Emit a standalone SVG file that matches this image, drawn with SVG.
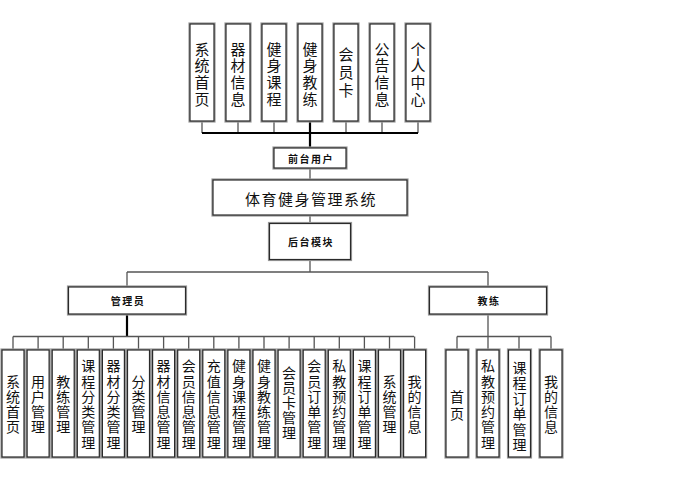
<svg xmlns="http://www.w3.org/2000/svg" width="686" height="483" viewBox="0 0 686 483">
<style>
.b{fill:#fff;stroke:#2a2a2a;stroke-width:1.2}
.h{fill:none;stroke:#9a9a9a;stroke-width:3.2}
.t{font-family:"Noto Sans CJK SC","Noto Sans CJK TC",sans-serif;fill:#111;text-anchor:middle;dominant-baseline:central}
.top{font-size:15px}
.bot{font-size:14px}
.sm{font-size:10px;letter-spacing:1.5px;font-weight:bold}
.c{fill:none;stroke:#555;stroke-width:1.3}
.k{fill:none;stroke:#000;stroke-width:2.2}
</style>
<rect width="686" height="483" fill="#fff"/>
<g id="connectors">
<path class="c" d="M202 121V133M238 121V133M274 121V133M346 121V133M382 121V133M418 121V133"/>
<path class="k" d="M202 133H418M310 121V148"/>
<path class="c" d="M310 168V180M310 215V223.5M310 259.5V272M127 272H488M127 272V287M488 272V287"/>
<path class="k" d="M127 314V336.5"/>
<path class="c" d="M13 336.5H414"/>
<path class="c" d="M13 336.5V350M38.1 336.5V350M63.2 336.5V350M88.3 336.5V350M113.4 336.5V350M138.5 336.5V350M163.6 336.5V350M188.7 336.5V350M213.8 336.5V350M238.9 336.5V350M264 336.5V350M289.1 336.5V350M314.2 336.5V350M339.3 336.5V350M364.4 336.5V350M389.5 336.5V350M414.6 336.5V350"/>
<path class="c" d="M488 314V336.5M457 336.5H551M457 336.5V350M488 336.5V350M519 336.5V350M551 336.5V350"/>
</g>
<g id="top-nodes">
<g id="n-xtsy"><rect class="h" x="190" y="24" width="24" height="97"/><rect class="b" x="190" y="24" width="24" height="97"/><text class="t top"><tspan x="202" y="47.5">系</tspan><tspan x="202" y="64.2">统</tspan><tspan x="202" y="80.9">首</tspan><tspan x="202" y="97.6">页</tspan></text></g>
<g id="n-qcxx"><rect class="h" x="226" y="24" width="24" height="97"/><rect class="b" x="226" y="24" width="24" height="97"/><text class="t top"><tspan x="238" y="47.5">器</tspan><tspan x="238" y="64.2">材</tspan><tspan x="238" y="80.9">信</tspan><tspan x="238" y="97.6">息</tspan></text></g>
<g id="n-jskc"><rect class="h" x="262" y="24" width="24" height="97"/><rect class="b" x="262" y="24" width="24" height="97"/><text class="t top"><tspan x="274" y="47.5">健</tspan><tspan x="274" y="64.2">身</tspan><tspan x="274" y="80.9">课</tspan><tspan x="274" y="97.6">程</tspan></text></g>
<g id="n-jsjl"><rect class="h" x="298" y="24" width="24" height="97"/><rect class="b" x="298" y="24" width="24" height="97"/><text class="t top"><tspan x="310" y="47.5">健</tspan><tspan x="310" y="64.2">身</tspan><tspan x="310" y="80.9">教</tspan><tspan x="310" y="97.6">练</tspan></text></g>
<g id="n-hyk"><rect class="h" x="334" y="24" width="24" height="97"/><rect class="b" x="334" y="24" width="24" height="97"/><text class="t top"><tspan x="346" y="53">会</tspan><tspan x="346" y="71">员</tspan><tspan x="346" y="89">卡</tspan></text></g>
<g id="n-ggxx"><rect class="h" x="370" y="24" width="24" height="97"/><rect class="b" x="370" y="24" width="24" height="97"/><text class="t top"><tspan x="382" y="47.5">公</tspan><tspan x="382" y="64.2">告</tspan><tspan x="382" y="80.9">信</tspan><tspan x="382" y="97.6">息</tspan></text></g>
<g id="n-grzx"><rect class="h" x="406" y="24" width="24" height="97"/><rect class="b" x="406" y="24" width="24" height="97"/><text class="t top"><tspan x="418" y="47.5">个</tspan><tspan x="418" y="64.2">人</tspan><tspan x="418" y="80.9">中</tspan><tspan x="418" y="97.6">心</tspan></text></g>
</g>
<g id="n-qtyh"><rect class="h" x="274" y="148" width="72" height="20"/><rect class="b" x="274" y="148" width="72" height="20"/><text class="t sm" x="311" y="158">前台用户</text></g>
<g id="n-main"><rect class="h" x="213" y="180" width="194" height="35"/><rect class="b" x="213" y="180" width="194" height="35"/><text class="t" x="311" y="198" style="font-size:15px;letter-spacing:1.5px">体育健身管理系统</text></g>
<g id="n-htmk"><rect class="h" x="269.5" y="223.5" width="81" height="36"/><rect class="b" x="269.5" y="223.5" width="81" height="36"/><text class="t sm" x="311" y="241.5">后台模块</text></g>
<g id="n-gly"><rect class="h" x="68.5" y="287" width="117" height="27"/><rect class="b" x="68.5" y="287" width="117" height="27"/><text class="t sm" x="128" y="300.5">管理员</text></g>
<g id="n-jl"><rect class="h" x="429.5" y="287" width="117" height="27"/><rect class="b" x="429.5" y="287" width="117" height="27"/><text class="t sm" x="489" y="300.5">教练</text></g>
<g id="admin-nodes">
<g id="a1"><rect class="h" x="2" y="350" width="22" height="107"/><rect class="b" x="2" y="350" width="22" height="107"/><text class="t bot"><tspan x="13" y="380.5">系</tspan><tspan x="13" y="395.8">统</tspan><tspan x="13" y="411.1">首</tspan><tspan x="13" y="426.4">页</tspan></text></g>
<g id="a2"><rect class="h" x="27.1" y="350" width="22" height="107"/><rect class="b" x="27.1" y="350" width="22" height="107"/><text class="t bot"><tspan x="38.1" y="380.5">用</tspan><tspan x="38.1" y="395.8">户</tspan><tspan x="38.1" y="411.1">管</tspan><tspan x="38.1" y="426.4">理</tspan></text></g>
<g id="a3"><rect class="h" x="52.2" y="350" width="22" height="107"/><rect class="b" x="52.2" y="350" width="22" height="107"/><text class="t bot"><tspan x="63.2" y="380.5">教</tspan><tspan x="63.2" y="395.8">练</tspan><tspan x="63.2" y="411.1">管</tspan><tspan x="63.2" y="426.4">理</tspan></text></g>
<g id="a4"><rect class="h" x="77.3" y="350" width="22" height="107"/><rect class="b" x="77.3" y="350" width="22" height="107"/><text class="t bot"><tspan x="88.3" y="365.2">课</tspan><tspan x="88.3" y="380.5">程</tspan><tspan x="88.3" y="395.8">分</tspan><tspan x="88.3" y="411.1">类</tspan><tspan x="88.3" y="426.4">管</tspan><tspan x="88.3" y="441.7">理</tspan></text></g>
<g id="a5"><rect class="h" x="102.4" y="350" width="22" height="107"/><rect class="b" x="102.4" y="350" width="22" height="107"/><text class="t bot"><tspan x="113.4" y="365.2">器</tspan><tspan x="113.4" y="380.5">材</tspan><tspan x="113.4" y="395.8">分</tspan><tspan x="113.4" y="411.1">类</tspan><tspan x="113.4" y="426.4">管</tspan><tspan x="113.4" y="441.7">理</tspan></text></g>
<g id="a6"><rect class="h" x="127.5" y="350" width="22" height="107"/><rect class="b" x="127.5" y="350" width="22" height="107"/><text class="t bot"><tspan x="138.5" y="380.5">分</tspan><tspan x="138.5" y="395.8">类</tspan><tspan x="138.5" y="411.1">管</tspan><tspan x="138.5" y="426.4">理</tspan></text></g>
<g id="a7"><rect class="h" x="152.6" y="350" width="22" height="107"/><rect class="b" x="152.6" y="350" width="22" height="107"/><text class="t bot"><tspan x="163.6" y="365.2">器</tspan><tspan x="163.6" y="380.5">材</tspan><tspan x="163.6" y="395.8">信</tspan><tspan x="163.6" y="411.1">息</tspan><tspan x="163.6" y="426.4">管</tspan><tspan x="163.6" y="441.7">理</tspan></text></g>
<g id="a8"><rect class="h" x="177.7" y="350" width="22" height="107"/><rect class="b" x="177.7" y="350" width="22" height="107"/><text class="t bot"><tspan x="188.7" y="365.2">会</tspan><tspan x="188.7" y="380.5">员</tspan><tspan x="188.7" y="395.8">信</tspan><tspan x="188.7" y="411.1">息</tspan><tspan x="188.7" y="426.4">管</tspan><tspan x="188.7" y="441.7">理</tspan></text></g>
<g id="a9"><rect class="h" x="202.8" y="350" width="22" height="107"/><rect class="b" x="202.8" y="350" width="22" height="107"/><text class="t bot"><tspan x="213.8" y="365.2">充</tspan><tspan x="213.8" y="380.5">值</tspan><tspan x="213.8" y="395.8">信</tspan><tspan x="213.8" y="411.1">息</tspan><tspan x="213.8" y="426.4">管</tspan><tspan x="213.8" y="441.7">理</tspan></text></g>
<g id="a10"><rect class="h" x="227.9" y="350" width="22" height="107"/><rect class="b" x="227.9" y="350" width="22" height="107"/><text class="t bot"><tspan x="238.9" y="365.2">健</tspan><tspan x="238.9" y="380.5">身</tspan><tspan x="238.9" y="395.8">课</tspan><tspan x="238.9" y="411.1">程</tspan><tspan x="238.9" y="426.4">管</tspan><tspan x="238.9" y="441.7">理</tspan></text></g>
<g id="a11"><rect class="h" x="253" y="350" width="22" height="107"/><rect class="b" x="253" y="350" width="22" height="107"/><text class="t bot"><tspan x="264" y="365.2">健</tspan><tspan x="264" y="380.5">身</tspan><tspan x="264" y="395.8">教</tspan><tspan x="264" y="411.1">练</tspan><tspan x="264" y="426.4">管</tspan><tspan x="264" y="441.7">理</tspan></text></g>
<g id="a12"><rect class="h" x="278.1" y="350" width="22" height="107"/><rect class="b" x="278.1" y="350" width="22" height="107"/><text class="t bot"><tspan x="289.1" y="371.5">会</tspan><tspan x="289.1" y="386.5">员</tspan><tspan x="289.1" y="401.5">卡</tspan><tspan x="289.1" y="416.5">管</tspan><tspan x="289.1" y="431.5">理</tspan></text></g>
<g id="a13"><rect class="h" x="303.2" y="350" width="22" height="107"/><rect class="b" x="303.2" y="350" width="22" height="107"/><text class="t bot"><tspan x="314.2" y="365.2">会</tspan><tspan x="314.2" y="380.5">员</tspan><tspan x="314.2" y="395.8">订</tspan><tspan x="314.2" y="411.1">单</tspan><tspan x="314.2" y="426.4">管</tspan><tspan x="314.2" y="441.7">理</tspan></text></g>
<g id="a14"><rect class="h" x="328.3" y="350" width="22" height="107"/><rect class="b" x="328.3" y="350" width="22" height="107"/><text class="t bot"><tspan x="339.3" y="365.2">私</tspan><tspan x="339.3" y="380.5">教</tspan><tspan x="339.3" y="395.8">预</tspan><tspan x="339.3" y="411.1">约</tspan><tspan x="339.3" y="426.4">管</tspan><tspan x="339.3" y="441.7">理</tspan></text></g>
<g id="a15"><rect class="h" x="353.4" y="350" width="22" height="107"/><rect class="b" x="353.4" y="350" width="22" height="107"/><text class="t bot"><tspan x="364.4" y="365.2">课</tspan><tspan x="364.4" y="380.5">程</tspan><tspan x="364.4" y="395.8">订</tspan><tspan x="364.4" y="411.1">单</tspan><tspan x="364.4" y="426.4">管</tspan><tspan x="364.4" y="441.7">理</tspan></text></g>
<g id="a16"><rect class="h" x="378.5" y="350" width="22" height="107"/><rect class="b" x="378.5" y="350" width="22" height="107"/><text class="t bot"><tspan x="389.5" y="380.5">系</tspan><tspan x="389.5" y="395.8">统</tspan><tspan x="389.5" y="411.1">管</tspan><tspan x="389.5" y="426.4">理</tspan></text></g>
<g id="a17"><rect class="h" x="403.6" y="350" width="22" height="107"/><rect class="b" x="403.6" y="350" width="22" height="107"/><text class="t bot"><tspan x="414.6" y="380.5">我</tspan><tspan x="414.6" y="395.8">的</tspan><tspan x="414.6" y="411.1">信</tspan><tspan x="414.6" y="426.4">息</tspan></text></g>
</g>
<g id="coach-nodes">
<g id="c1"><rect class="h" x="446" y="350" width="22" height="107"/><rect class="b" x="446" y="350" width="22" height="107"/><text class="t bot"><tspan x="457" y="396">首</tspan><tspan x="457" y="413">页</tspan></text></g>
<g id="c2"><rect class="h" x="477" y="350" width="22" height="107"/><rect class="b" x="477" y="350" width="22" height="107"/><text class="t bot"><tspan x="488" y="365.2">私</tspan><tspan x="488" y="380.5">教</tspan><tspan x="488" y="395.8">预</tspan><tspan x="488" y="411.1">约</tspan><tspan x="488" y="426.4">管</tspan><tspan x="488" y="441.7">理</tspan></text></g>
<g id="c3"><rect class="h" x="508.5" y="350" width="22" height="107"/><rect class="b" x="508.5" y="350" width="22" height="107"/><text class="t bot"><tspan x="519.5" y="366.5">课</tspan><tspan x="519.5" y="382">程</tspan><tspan x="519.5" y="397.5">订</tspan><tspan x="519.5" y="413">单</tspan><tspan x="519.5" y="428.5">管</tspan><tspan x="519.5" y="444">理</tspan></text></g>
<g id="c4"><rect class="h" x="540" y="350" width="22" height="107"/><rect class="b" x="540" y="350" width="22" height="107"/><text class="t bot"><tspan x="551" y="380.5">我</tspan><tspan x="551" y="395.8">的</tspan><tspan x="551" y="411.1">信</tspan><tspan x="551" y="426.4">息</tspan></text></g>
</g>
</svg>
